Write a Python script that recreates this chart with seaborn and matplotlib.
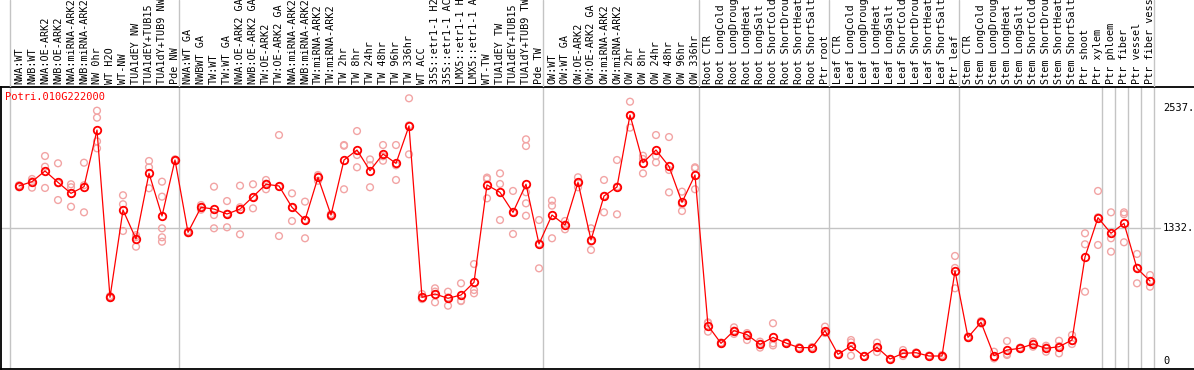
import numpy as np
import pandas as pd
import matplotlib
matplotlib.use("Agg")
import matplotlib.pyplot as plt
import matplotlib.transforms as mtransforms
import seaborn as sns

# --- data ---
GENE = "Potri.010G222000"

labels = [
    "NWA:WT", "NWB:WT", "NWA:OE-ARK2", "NWB:OE-ARK2", "NWA:miRNA-ARK2", "NWB:miRNA-ARK2",
    "NW 0hr", "WT H2O", "WT-NW", "TUA1dEY NW", "TUA1dEY+TUB15 NW", "TUA1dY+TUB9 NW", "Pde NW",
    "NWA:WT GA", "NWBWT GA", "TW:WT", "TW:WT GA", "NWA:OE-ARK2 GA", "NWB:OE-ARK2 GA",
    "TW:OE-ARK2", "TW:OE-ARK2 GA", "NWA:miRNA-ARK2", "NWB:miRNA-ARK2", "TW:miRNA-ARK2",
    "TW:miRNA-ARK2", "TW 2hr", "TW 8hr", "TW 24hr", "TW 48hr", "TW 96hr", "TW 336hr",
    "WT ACC", "35S::etr1-1 H2O", "35S::etr1-1 ACC", "LMX5::etr1-1 H2O", "LMX5::etr1-1 ACC",
    "WT-TW", "TUA1dEY TW", "TUA1dEY+TUB15 TW", "TUA1dY+TUB9 TW", "Pde TW",
    "OW:WT", "OW:WT GA", "OW:OE-ARK2", "OW:OE-ARK2 GA", "OW:miRNA-ARK2", "OW:miRNA-ARK2",
    "OW 2hr", "OW 8hr", "OW 24hr", "OW 48hr", "OW 96hr", "OW 336hr",
    "Root CTR", "Root LongCold", "Root LongDrought", "Root LongHeat", "Root LongSalt",
    "Root ShortCold", "Root ShortDrought", "Root ShortHeat", "Root ShortSalt", "Ptr root",
    "Leaf CTR", "Leaf LongCold", "Leaf LongDrought", "Leaf LongHeat", "Leaf LongSalt",
    "Leaf ShortCold", "Leaf ShortDrought", "Leaf ShortHeat", "Leaf ShortSalt", "Ptr leaf",
    "Stem CTR", "Stem LongCold", "Stem LongDrought", "Stem LongHeat", "Stem LongSalt",
    "Stem ShortCold", "Stem ShortDrought", "Stem ShortHeat", "Stem ShortSalt", "Ptr shoot",
    "Ptr xylem", "Ptr phloem", "Ptr fiber", "Ptr vessel", "Ptr fiber vessel",
]

means = [
    1753, 1796, 1903, 1789, 1679, 1746, 2313, 638, 1512, 1222, 1880, 1452, 2013,
    1289, 1539, 1522, 1472, 1522, 1646, 1770, 1753, 1539, 1412, 1839, 1462, 2013, 2113,
    1906, 2073, 1979, 2354, 638, 671, 628, 661, 788, 1763, 1689, 1489, 1770, 1172,
    1462, 1362, 1789, 1212, 1652, 1743, 2464, 1986, 2113, 1949, 1589, 1863,
    354, 177, 304, 264, 167, 237, 180, 134, 134, 304,
    67, 150, 47, 137, 20, 77, 83, 50, 50, 904,
    237, 388, 53, 110, 127, 170, 127, 143, 210, 1042, 1435,
    1279, 1379, 928, 801,
]

replicates = [
    [1760, 1740, 1755], [1823, 1736, 1800], [2053, 1946, 1733], [1980, 1612, 1780],
    [1770, 1740, 1545], [1986, 1489, 1760], [2507, 2437, 2200, 2130], [650, 630, 640],
    [1660, 1302, 1570], [1260, 1145, 1240], [2003, 1940, 1730], [1796, 1646, 1329, 1239, 1195],
    [2020, 2005, 2010],
    [1300, 1280, 1290], [1562, 1540, 1515], [1746, 1462, 1329], [1602, 1339, 1475],
    [1756, 1269, 1540], [1770, 1529, 1640], [1813, 1720, 1776], [2263, 1252, 1745],
    [1679, 1402, 1536], [1596, 1229, 1412], [1863, 1850, 1805], [1445, 1470, 1470],
    [2163, 2156, 1720], [2303, 2063, 1940], [2019, 1740, 1960], [2163, 2006, 2050],
    [2163, 1813, 1960], [2631, 2070, 2360], [671, 620, 625], [728, 588, 695],
    [694, 554, 636], [778, 604, 600], [971, 711, 678], [1823, 1629, 1837],
    [1879, 1773, 1412], [1703, 1272, 1492], [2220, 2153, 1579, 1455, 1690], [1412, 928, 1176],
    [1606, 1556, 1229], [1402, 1319, 1365], [1840, 1740, 1787], [1329, 1112, 1195],
    [1813, 1489, 1654], [2013, 1469, 1747], [2597, 2337, 2458], [2056, 1879, 2023],
    [2263, 2053, 1989], [2243, 1913, 1689], [1696, 1502, 1570], [1940, 1720, 1930],
    [387, 294, 380], [177, 170, 185], [337, 271, 304], [280, 264, 210], [194, 134, 172],
    [378, 177, 156], [180, 175, 186], [134, 130, 138], [134, 128, 140], [344, 290, 280],
    [67, 63, 71], [210, 53, 187], [47, 44, 50], [184, 137, 90], [20, 18, 22],
    [110, 50, 71], [83, 80, 86], [50, 55, 45], [50, 60, 40], [1052, 728, 932],
    [237, 230, 244], [388, 400, 376], [93, 40, 26], [200, 60, 70], [127, 120, 134],
    [194, 143, 173], [153, 93, 135], [203, 77, 150], [260, 170, 200], [1279, 1169, 694],
    [1703, 1162, 1440],
    [1489, 1229, 1095], [1489, 1470, 1189], [1072, 778, 934], [861, 744, 800],
]

# sample groups (sizes) separated by grey lines; True = line also runs through header
group_sizes = [13, 28, 12, 10, 10, 11, 1, 1, 1, 1]
header_line = [True, True, True, True, True, False, False, False, False, True]

y_ticks = [2537, 1332, 0]

# --- build frames ---
idx = np.arange(len(labels))
df_mean = pd.DataFrame({"sample": idx, "value": means})
df_rep = pd.DataFrame(
    [(i, v) for i, reps in enumerate(replicates) for v in reps],
    columns=["sample", "value"],
)

sns.set_style("white")
plt.rcParams["font.family"] = ["DejaVu Sans Mono"]

W, H = 1194, 370
fig = plt.figure(figsize=(W / 100, H / 100), dpi=100)

# pixel layout: plot region from y=87 to y=369, x from 1 to 1194
px_left, px_top, px_bottom = 1, 87, 369
step = 13.0
x0_px = 19
xmin = -(x0_px - px_left) / step
xmax = xmin + (W - px_left) / step
y0_px = 361
per_unit = (y0_px - 228) / 1332
ymin = -(px_bottom - y0_px) / per_unit
ymax = (y0_px - px_top) / per_unit

ax = fig.add_axes([px_left / W, (H - px_bottom) / H, (W - px_left) / W, (px_bottom - px_top) / H])
hdr = fig.add_axes([px_left / W, (H - px_top) / H, (W - px_left) / W, px_top / H])

grey = "#c4c4c4"
bounds = np.cumsum(group_sizes) - 0.7
bounds = np.concatenate([[-0.7], bounds])
hdr_flags = [True] + header_line

for b in bounds:
    ax.axvline(b, color=grey, lw=1, zorder=0)
ax.axhline(1332, xmin=0, xmax=(1160 - px_left) / (W - px_left), color=grey, lw=1, zorder=0)

sns.scatterplot(data=df_rep, x="sample", y="value", ax=ax, marker="o", s=24,
                facecolors="none", edgecolors="#f2a4a4", linewidth=1.0, zorder=2, legend=False)
sns.lineplot(data=df_mean, x="sample", y="value", ax=ax, color="red", lw=0.9,
             marker="o", markersize=5.4, markerfacecolor="none", markeredgecolor="red",
             markeredgewidth=1.3, sort=False, zorder=3, legend=False)

ax.set_xlim(xmin, xmax)
ax.set_ylim(ymin, ymax)
ax.set_xticks([])
ax.set_yticks([])
ax.set_xlabel("")
ax.set_ylabel("")
for side in ["left", "top", "bottom"]:
    ax.spines[side].set_visible(True)
    ax.spines[side].set_color("black")
    ax.spines[side].set_linewidth(1.3)
ax.spines["right"].set_visible(False)

ax.text(4 / (W - px_left), 1 - 10 / (px_bottom - px_top), GENE, transform=ax.transAxes,
        color="red", fontsize=7.5, ha="left", va="center")

trans = mtransforms.blended_transform_factory(ax.transAxes, ax.transData)
for t in y_ticks:
    ax.text((1163 - px_left) / (W - px_left), t, f"{t}." if t else "0", transform=trans,
            fontsize=7.5, ha="left", va="center", color="black")

# header with rotated sample names
hdr.set_xlim(xmin, xmax)
hdr.set_ylim(0, 1)
hdr.axis("off")
for b, f in zip(bounds, hdr_flags):
    if f:
        hdr.axvline(b, color=grey, lw=1, zorder=0)
for i, lab in enumerate(labels):
    hdr.text(i, 3 / px_top, lab, rotation=90, ha="center", va="bottom",
             fontsize=7.3, color="black", clip_on=False)

fig.savefig("out.png", dpi=100)
